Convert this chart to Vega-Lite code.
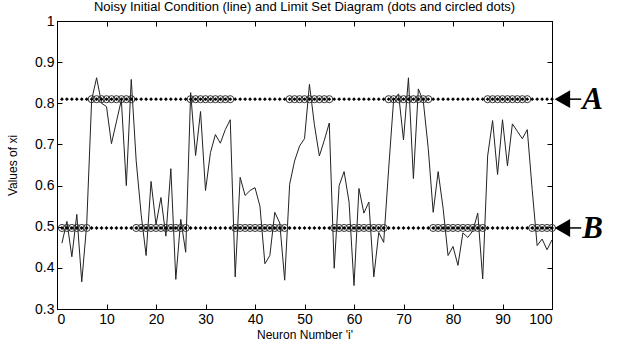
{
 "$schema": "https://vega.github.io/schema/vega-lite/v6.json",
 "width": 495, "height": 288,
 "autosize": {"type": "none"},
 "padding": {"left": 57, "top": 21, "right": 66, "bottom": 47},
 "background": "white",
 "title": {"text": "Noisy Initial Condition (line) and Limit Set Diagram (dots and circled dots)", "fontSize": 13, "font": "Liberation Sans", "fontWeight": "normal", "color": "black", "offset": 0, "anchor": "middle"},
 "config": {
  "view": {"stroke": "black", "strokeWidth": 1},
  "axis": {"grid": false, "domainColor": "black", "tickColor": "black", "labelColor": "black", "labelFont": "Liberation Sans", "labelFontSize": 14, "titleFont": "Liberation Sans", "titleFontSize": 12, "titleFontWeight": "normal", "titleColor": "black", "tickSize": -5, "labelPadding": 8}
 },
 "data": {"values": [
  {"i":1,"v":0.46,"a":0.81,"b":0.497,"c":0.497},
  {"i":2,"v":0.513,"a":0.81,"b":0.497,"c":0.497},
  {"i":3,"v":0.427,"a":0.81,"b":0.497,"c":0.497},
  {"i":4,"v":0.53,"a":0.81,"b":0.497,"c":0.497},
  {"i":5,"v":0.366,"a":0.81,"b":0.497,"c":0.497},
  {"i":6,"v":0.505,"a":0.81,"b":0.497,"c":0.497},
  {"i":7,"v":0.808,"a":0.81,"b":0.497,"c":0.81},
  {"i":8,"v":0.862,"a":0.81,"b":0.497,"c":0.81},
  {"i":9,"v":0.8,"a":0.81,"b":0.497,"c":0.81},
  {"i":10,"v":0.792,"a":0.81,"b":0.497,"c":0.81},
  {"i":11,"v":0.702,"a":0.81,"b":0.497,"c":0.81},
  {"i":12,"v":0.755,"a":0.81,"b":0.497,"c":0.81},
  {"i":13,"v":0.808,"a":0.81,"b":0.497,"c":0.81},
  {"i":14,"v":0.6,"a":0.81,"b":0.497,"c":0.81},
  {"i":15,"v":0.858,"a":0.81,"b":0.497,"c":0.81},
  {"i":16,"v":0.66,"a":0.81,"b":0.497,"c":0.497},
  {"i":17,"v":0.53,"a":0.81,"b":0.497,"c":0.497},
  {"i":18,"v":0.43,"a":0.81,"b":0.497,"c":0.497},
  {"i":19,"v":0.61,"a":0.81,"b":0.497,"c":0.497},
  {"i":20,"v":0.505,"a":0.81,"b":0.497,"c":0.497},
  {"i":21,"v":0.571,"a":0.81,"b":0.497,"c":0.497},
  {"i":22,"v":0.477,"a":0.81,"b":0.497,"c":0.497},
  {"i":23,"v":0.641,"a":0.81,"b":0.497,"c":0.497},
  {"i":24,"v":0.372,"a":0.81,"b":0.497,"c":0.497},
  {"i":25,"v":0.518,"a":0.81,"b":0.497,"c":0.497},
  {"i":26,"v":0.438,"a":0.81,"b":0.497,"c":0.497},
  {"i":27,"v":0.826,"a":0.81,"b":0.497,"c":0.81},
  {"i":28,"v":0.673,"a":0.81,"b":0.497,"c":0.81},
  {"i":29,"v":0.78,"a":0.81,"b":0.497,"c":0.81},
  {"i":30,"v":0.588,"a":0.81,"b":0.497,"c":0.81},
  {"i":31,"v":0.68,"a":0.81,"b":0.497,"c":0.81},
  {"i":32,"v":0.724,"a":0.81,"b":0.497,"c":0.81},
  {"i":33,"v":0.703,"a":0.81,"b":0.497,"c":0.81},
  {"i":34,"v":0.736,"a":0.81,"b":0.497,"c":0.81},
  {"i":35,"v":0.76,"a":0.81,"b":0.497,"c":0.81},
  {"i":36,"v":0.378,"a":0.81,"b":0.497,"c":0.497},
  {"i":37,"v":0.62,"a":0.81,"b":0.497,"c":0.497},
  {"i":38,"v":0.576,"a":0.81,"b":0.497,"c":0.497},
  {"i":39,"v":0.588,"a":0.81,"b":0.497,"c":0.497},
  {"i":40,"v":0.595,"a":0.81,"b":0.497,"c":0.497},
  {"i":41,"v":0.55,"a":0.81,"b":0.497,"c":0.497},
  {"i":42,"v":0.41,"a":0.81,"b":0.497,"c":0.497},
  {"i":43,"v":0.43,"a":0.81,"b":0.497,"c":0.497},
  {"i":44,"v":0.535,"a":0.81,"b":0.497,"c":0.497},
  {"i":45,"v":0.509,"a":0.81,"b":0.497,"c":0.497},
  {"i":46,"v":0.37,"a":0.81,"b":0.497,"c":0.497},
  {"i":47,"v":0.603,"a":0.81,"b":0.497,"c":0.81},
  {"i":48,"v":0.66,"a":0.81,"b":0.497,"c":0.81},
  {"i":49,"v":0.696,"a":0.81,"b":0.497,"c":0.81},
  {"i":50,"v":0.714,"a":0.81,"b":0.497,"c":0.81},
  {"i":51,"v":0.846,"a":0.81,"b":0.497,"c":0.81},
  {"i":52,"v":0.748,"a":0.81,"b":0.497,"c":0.81},
  {"i":53,"v":0.672,"a":0.81,"b":0.497,"c":0.81},
  {"i":54,"v":0.71,"a":0.81,"b":0.497,"c":0.81},
  {"i":55,"v":0.752,"a":0.81,"b":0.497,"c":0.81},
  {"i":56,"v":0.399,"a":0.81,"b":0.497,"c":0.497},
  {"i":57,"v":0.6,"a":0.81,"b":0.497,"c":0.497},
  {"i":58,"v":0.634,"a":0.81,"b":0.497,"c":0.497},
  {"i":59,"v":0.56,"a":0.81,"b":0.497,"c":0.497},
  {"i":60,"v":0.357,"a":0.81,"b":0.497,"c":0.497},
  {"i":61,"v":0.593,"a":0.81,"b":0.497,"c":0.497},
  {"i":62,"v":0.533,"a":0.81,"b":0.497,"c":0.497},
  {"i":63,"v":0.56,"a":0.81,"b":0.497,"c":0.497},
  {"i":64,"v":0.378,"a":0.81,"b":0.497,"c":0.497},
  {"i":65,"v":0.486,"a":0.81,"b":0.497,"c":0.497},
  {"i":66,"v":0.462,"a":0.81,"b":0.497,"c":0.497},
  {"i":67,"v":0.64,"a":0.81,"b":0.497,"c":0.81},
  {"i":68,"v":0.808,"a":0.81,"b":0.497,"c":0.81},
  {"i":69,"v":0.823,"a":0.81,"b":0.497,"c":0.81},
  {"i":70,"v":0.711,"a":0.81,"b":0.497,"c":0.81},
  {"i":71,"v":0.862,"a":0.81,"b":0.497,"c":0.81},
  {"i":72,"v":0.617,"a":0.81,"b":0.497,"c":0.81},
  {"i":73,"v":0.835,"a":0.81,"b":0.497,"c":0.81},
  {"i":74,"v":0.805,"a":0.81,"b":0.497,"c":0.81},
  {"i":75,"v":0.69,"a":0.81,"b":0.497,"c":0.81},
  {"i":76,"v":0.535,"a":0.81,"b":0.497,"c":0.497},
  {"i":77,"v":0.634,"a":0.81,"b":0.497,"c":0.497},
  {"i":78,"v":0.545,"a":0.81,"b":0.497,"c":0.497},
  {"i":79,"v":0.43,"a":0.81,"b":0.497,"c":0.497},
  {"i":80,"v":0.452,"a":0.81,"b":0.497,"c":0.497},
  {"i":81,"v":0.406,"a":0.81,"b":0.497,"c":0.497},
  {"i":82,"v":0.485,"a":0.81,"b":0.497,"c":0.497},
  {"i":83,"v":0.474,"a":0.81,"b":0.497,"c":0.497},
  {"i":84,"v":0.49,"a":0.81,"b":0.497,"c":0.497},
  {"i":85,"v":0.533,"a":0.81,"b":0.497,"c":0.497},
  {"i":86,"v":0.373,"a":0.81,"b":0.497,"c":0.497},
  {"i":87,"v":0.672,"a":0.81,"b":0.497,"c":0.81},
  {"i":88,"v":0.758,"a":0.81,"b":0.497,"c":0.81},
  {"i":89,"v":0.627,"a":0.81,"b":0.497,"c":0.81},
  {"i":90,"v":0.76,"a":0.81,"b":0.497,"c":0.81},
  {"i":91,"v":0.648,"a":0.81,"b":0.497,"c":0.81},
  {"i":92,"v":0.75,"a":0.81,"b":0.497,"c":0.81},
  {"i":93,"v":0.732,"a":0.81,"b":0.497,"c":0.81},
  {"i":94,"v":0.714,"a":0.81,"b":0.497,"c":0.81},
  {"i":95,"v":0.736,"a":0.81,"b":0.497,"c":0.81},
  {"i":96,"v":0.59,"a":0.81,"b":0.497,"c":0.497},
  {"i":97,"v":0.454,"a":0.81,"b":0.497,"c":0.497},
  {"i":98,"v":0.47,"a":0.81,"b":0.497,"c":0.497},
  {"i":99,"v":0.444,"a":0.81,"b":0.497,"c":0.497},
  {"i":100,"v":0.468,"a":0.81,"b":0.497,"c":0.497}
 ]},
 "resolve": {"axis": {"x": "independent", "y": "independent"}},
 "layer": [
  {
   "mark": {"type": "line", "color": "#222", "strokeWidth": 1},
   "encoding": {
    "x": {"field": "i", "type": "quantitative", "scale": {"domain": [0, 100], "nice": false, "zero": false},
          "axis": {"orient": "bottom", "values": [0,10,20,30,40,50,60,70,80,90,100], "title": "Neuron Number 'i'", "titlePadding": 3}},
    "y": {"field": "v", "type": "quantitative", "scale": {"domain": [0.3, 1], "nice": false, "zero": false},
          "axis": {"orient": "left", "values": [0.3,0.4,0.5,0.6,0.7,0.8,0.9,1], "format": "~g", "title": "Values of xi", "titlePadding": 15}}
   }
  },
  {
   "mark": {"type": "point", "shape": "circle", "filled": false, "stroke": "#333", "strokeWidth": 1, "size": 50, "opacity": 1},
   "encoding": {
    "x": {"field": "i", "type": "quantitative", "axis": {"orient": "top", "values": [0,10,20,30,40,50,60,70,80,90,100], "labels": false, "title": null}},
    "y": {"field": "c", "type": "quantitative", "axis": {"orient": "right", "values": [0.3,0.4,0.5,0.6,0.7,0.8,0.9,1], "labels": false, "title": null}}
   }
  },
  {
   "transform": [{"fold": ["a", "b"], "as": ["lev", "dv"]}],
   "mark": {"type": "point", "shape": "diamond", "filled": true, "color": "black", "size": 15, "opacity": 1},
   "encoding": {
    "x": {"field": "i", "type": "quantitative", "axis": null},
    "y": {"field": "dv", "type": "quantitative", "axis": null}
   }
  },
  {
   "data": {"values": [{"label": "A", "level": 0.81}, {"label": "B", "level": 0.497}]},
   "layer": [
    {
     "mark": {"type": "point", "shape": "triangle-left", "filled": true, "color": "black", "size": 320, "opacity": 1},
     "encoding": {
      "x": {"datum": 102.1, "type": "quantitative", "axis": null},
      "y": {"field": "level", "type": "quantitative", "axis": null}
     }
    },
    {
     "mark": {"type": "rule", "color": "black", "strokeWidth": 1.5},
     "encoding": {
      "x": {"datum": 103.5, "type": "quantitative", "axis": null},
      "x2": {"datum": 105.9},
      "y": {"field": "level", "type": "quantitative", "axis": null}
     }
    },
    {
     "mark": {"type": "text", "font": "Liberation Serif", "fontWeight": "bold", "fontStyle": "italic", "fontSize": 31, "align": "left", "baseline": "middle", "color": "black", "dy": 1},
     "encoding": {
      "x": {"datum": 106.1, "type": "quantitative", "axis": null},
      "y": {"field": "level", "type": "quantitative", "axis": null},
      "text": {"field": "label"}
     }
    }
   ]
  }
 ]
}
